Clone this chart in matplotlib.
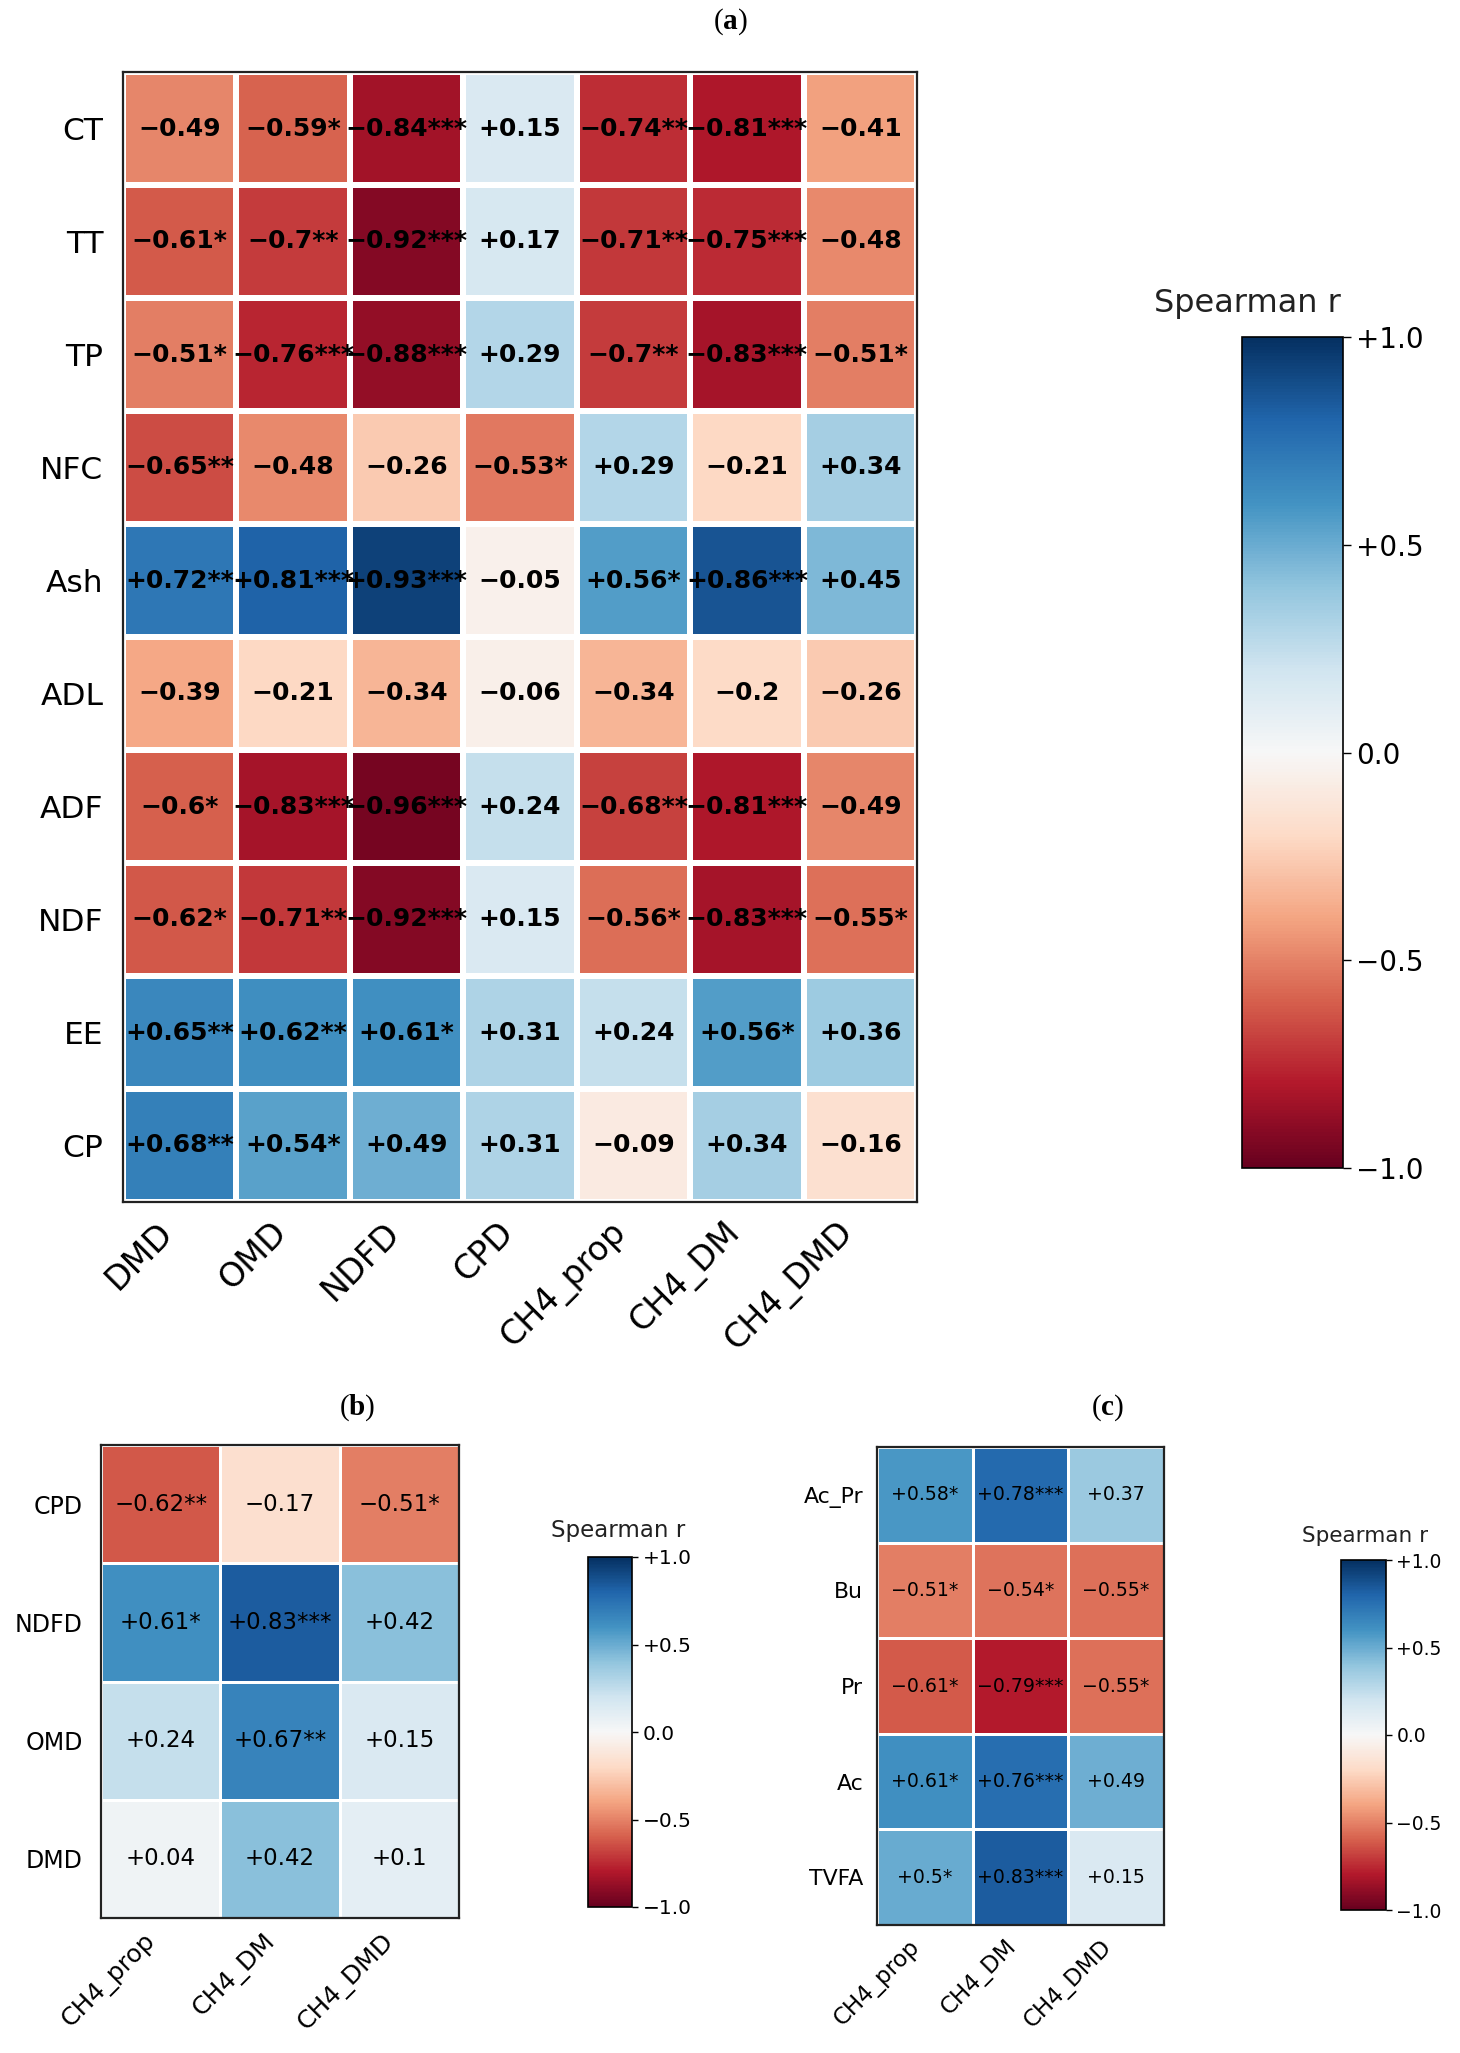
import matplotlib
matplotlib.use("Agg")
import matplotlib.pyplot as plt
import numpy as np

W, H = 1460, 2053

plt.rcParams['mathtext.fontset'] = 'custom'
plt.rcParams['mathtext.rm'] = 'Liberation Serif'
plt.rcParams['mathtext.bf'] = 'Liberation Serif:bold'

# Panel (a): feed composition vs digestibility / methane
a_rows = ["CT", "TT", "TP", "NFC", "Ash", "ADL", "ADF", "NDF", "EE", "CP"]
a_cols = ["DMD", "OMD", "NDFD", "CPD", "CH4_prop", "CH4_DM", "CH4_DMD"]
a_r = [
    [-0.49, -0.59, -0.84, 0.15, -0.74, -0.81, -0.41],
    [-0.61, -0.70, -0.92, 0.17, -0.71, -0.75, -0.48],
    [-0.51, -0.76, -0.88, 0.29, -0.70, -0.83, -0.51],
    [-0.65, -0.48, -0.26, -0.53, 0.29, -0.21, 0.34],
    [0.72, 0.81, 0.93, -0.05, 0.56, 0.86, 0.45],
    [-0.39, -0.21, -0.34, -0.06, -0.34, -0.20, -0.26],
    [-0.60, -0.83, -0.96, 0.24, -0.68, -0.81, -0.49],
    [-0.62, -0.71, -0.92, 0.15, -0.56, -0.83, -0.55],
    [0.65, 0.62, 0.61, 0.31, 0.24, 0.56, 0.36],
    [0.68, 0.54, 0.49, 0.31, -0.09, 0.34, -0.16],
]
a_stars = [
    [0, 1, 3, 0, 2, 3, 0],
    [1, 2, 3, 0, 2, 3, 0],
    [1, 3, 3, 0, 2, 3, 1],
    [2, 0, 0, 1, 0, 0, 0],
    [2, 3, 3, 0, 1, 3, 0],
    [0, 0, 0, 0, 0, 0, 0],
    [1, 3, 3, 0, 2, 3, 0],
    [1, 2, 3, 0, 1, 3, 1],
    [2, 2, 1, 0, 0, 1, 0],
    [2, 1, 0, 0, 0, 0, 0],
]

# Panel (b): digestibility vs methane
b_rows = ["CPD", "NDFD", "OMD", "DMD"]
b_cols = ["CH4_prop", "CH4_DM", "CH4_DMD"]
b_r = [
    [-0.62, -0.17, -0.51],
    [0.61, 0.83, 0.42],
    [0.24, 0.67, 0.15],
    [0.04, 0.42, 0.10],
]
b_stars = [
    [2, 0, 1],
    [1, 3, 0],
    [0, 2, 0],
    [0, 0, 0],
]

# Panel (c): VFA vs methane
c_rows = ["Ac_Pr", "Bu", "Pr", "Ac", "TVFA"]
c_cols = ["CH4_prop", "CH4_DM", "CH4_DMD"]
c_r = [
    [0.58, 0.78, 0.37],
    [-0.51, -0.54, -0.55],
    [-0.61, -0.79, -0.55],
    [0.61, 0.76, 0.49],
    [0.50, 0.83, 0.15],
]
c_stars = [
    [1, 3, 0],
    [1, 1, 1],
    [1, 3, 1],
    [1, 3, 0],
    [1, 3, 0],
]

cbar_ticks = [-1.0, -0.5, 0.0, 0.5, 1.0]


def fmt_r(v):
    s = f"{v:+.2f}".rstrip("0")
    if s.endswith("."):
        s += "0"
    return s.replace("-", "\u2212")


def fmt_tick(v):
    if v == 0:
        return "0.0"
    return f"{v:+.1f}".replace("-", "\u2212")


def px_axes(fig, x0, y0, x1, y1):
    return fig.add_axes([x0 / W, 1 - y1 / H, (x1 - x0) / W, (y1 - y0) / H])


def heatmap(fig, box, cbox, rows, cols, r, stars, title, title_xy, label_xy,
            cell_fs, cell_weight, row_fs, col_fs, row_pad, col_pad, grid_lw,
            cb_fs, cb_label_fs, tick_len):
    ax = px_axes(fig, *box)
    vals = np.array(r)
    mesh = ax.pcolormesh(vals, cmap="RdBu", vmin=-1, vmax=1,
                         edgecolors="white", linewidth=grid_lw)
    ax.set_xlim(0, len(cols))
    ax.set_ylim(len(rows), 0)
    for i in range(len(rows)):
        for j in range(len(cols)):
            ax.text(j + 0.5, i + 0.5, fmt_r(r[i][j]) + "*" * stars[i][j],
                    ha="center", va="center", fontsize=cell_fs,
                    fontweight=cell_weight, color="black")
    ax.set_xticks(np.arange(len(cols)) + 0.5)
    ax.set_xticklabels(cols, rotation=45, ha="right", fontsize=col_fs)
    ax.set_yticks(np.arange(len(rows)) + 0.5)
    ax.set_yticklabels(rows, fontsize=row_fs)
    ax.tick_params(axis="both", length=0)
    ax.tick_params(axis="y", pad=row_pad)
    ax.tick_params(axis="x", pad=col_pad)
    for sp in ax.spines.values():
        sp.set_linewidth(1.6)
        sp.set_color("#222222")

    cax = px_axes(fig, *cbox)
    cb = fig.colorbar(mesh, cax=cax, ticks=cbar_ticks)
    cb.ax.set_yticklabels([fmt_tick(t) for t in cbar_ticks])
    cb.ax.tick_params(labelsize=cb_fs, length=tick_len, width=1.0)
    cb.outline.set_linewidth(1.2)
    fig.text(label_xy[0] / W, 1 - label_xy[1] / H, "Spearman r",
             ha="center", va="baseline", fontsize=cb_label_fs, color="#222222")

    fig.text(title_xy[0] / W, 1 - title_xy[1] / H, title, ha="center", va="center",
             fontsize=21, family="Liberation Serif")


fig = plt.figure(figsize=(W / 100, H / 100), dpi=100)

heatmap(fig, (123, 72, 917, 1202), (1242, 337, 1343, 1168),
        a_rows, a_cols, a_r, a_stars, r"($\mathbf{a}$)", (730, 22), (1247, 312),
        cell_fs=18, cell_weight="bold", row_fs=22.5, col_fs=24, row_pad=14, col_pad=10,
        grid_lw=3.0, cb_fs=20, cb_label_fs=23, tick_len=6)

heatmap(fig, (101, 1445, 459, 1918), (588, 1557, 632, 1907),
        b_rows, b_cols, b_r, b_stars, r"($\mathbf{b}$)", (357, 1408), (618, 1537),
        cell_fs=16.5, cell_weight="normal", row_fs=17, col_fs=18, row_pad=13, col_pad=8,
        grid_lw=2.0, cb_fs=14.5, cb_label_fs=16.5, tick_len=4)

heatmap(fig, (877, 1447, 1164, 1925), (1341, 1560, 1386, 1910),
        c_rows, c_cols, c_r, c_stars, r"($\mathbf{c}$)", (1108, 1408), (1365, 1542),
        cell_fs=13.6, cell_weight="normal", row_fs=15.8, col_fs=16.5, row_pad=10, col_pad=7,
        grid_lw=2.0, cb_fs=13.5, cb_label_fs=15.5, tick_len=4)

fig.savefig("out.png", dpi=100)
